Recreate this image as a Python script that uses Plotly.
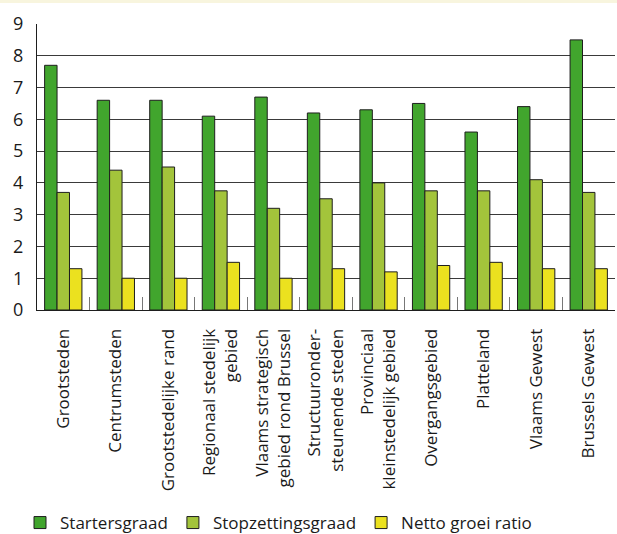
import plotly.graph_objects as go

# regions (tick labels, line breaks as in the original)
categories = [
    "Grootsteden",
    "Centrumsteden",
    "Grootstedelijke rand",
    "Regionaal stedelijk<br>gebied",
    "Vlaams strategisch<br>gebied rond Brussel",
    "Structuuronder-<br>steunende steden",
    "Provinciaal<br>kleinstedelijk gebied",
    "Overgangsgebied",
    "Platteland",
    "Vlaams Gewest",
    "Brussels Gewest",
]

startersgraad = [7.7, 6.6, 6.6, 6.1, 6.7, 6.2, 6.3, 6.5, 5.6, 6.4, 8.5]
stopzettingsgraad = [3.7, 4.4, 4.5, 3.75, 3.2, 3.5, 4.0, 3.75, 3.75, 4.1, 3.7]
netto_groei_ratio = [1.3, 1.0, 1.0, 1.5, 1.0, 1.3, 1.2, 1.4, 1.5, 1.3, 1.3]

y_ticks = list(range(0, 10))

FONT = "Open Sans, Noto Sans, sans-serif"
series = [
    ("Startersgraad", startersgraad, "#41a52d"),
    ("Stopzettingsgraad", stopzettingsgraad, "#a3c43b"),
    ("Netto groei ratio", netto_groei_ratio, "#ebe11f"),
]

fig = go.Figure()
for name, vals, col in series:
    fig.add_trace(go.Bar(x=categories, y=vals, name=name,
                         marker=dict(color=col, line=dict(color="#1e1e1e", width=1))))

fig.update_layout(
    barmode="group", bargap=0.29, bargroupgap=0,
    width=617, height=534,
    margin=dict(l=37, r=2, t=24, b=224),
    paper_bgcolor="white", plot_bgcolor="white",
    font=dict(family=FONT, size=16, color="#1a1a1a"),
    showlegend=True,
    legend=dict(orientation="h", xref="container", x=20 / 617, xanchor="left",
                yref="container", y=(534 - 523) / 534, yanchor="middle",
                bgcolor="rgba(0,0,0,0)",
                font=dict(size=17), itemwidth=30, traceorder="normal"),
    shapes=[dict(type="rect", xref="paper", yref="paper", x0=-0.1, x1=1.1,
                 y0=1 + 21 / 286, y1=1.2, fillcolor="#f8f5de", line_width=0, layer="below")],
)
fig.update_xaxes(
    type="category", tickangle=-90, tickfont=dict(size=17), automargin=False,
    showline=True, linecolor="#1e1e1e", linewidth=1,
    ticks="inside", tickson="boundaries", ticklen=13, tickcolor="#777", tickwidth=1,
    showgrid=False, ticklabelstandoff=11,
)
fig.update_yaxes(
    range=[0, 9], tickvals=y_ticks, tickfont=dict(size=18), automargin=False,
    showline=True, linecolor="#1e1e1e", linewidth=1,
    showgrid=True, gridcolor="#3a3a3a", gridwidth=1, zeroline=False,
    ticks="", ticklabelstandoff=9,
)

fig.write_html("out.html", config={"displayModeBar": False},
               post_script="document.body.style.margin='0';")
